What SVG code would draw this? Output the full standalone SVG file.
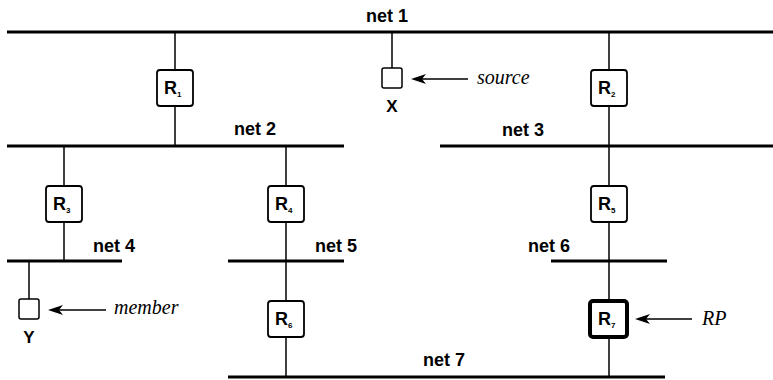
<svg xmlns="http://www.w3.org/2000/svg" width="773" height="380" viewBox="0 0 773 380">
<style>
.net{stroke:#000;stroke-width:3;fill:none}
.link{stroke:#000;stroke-width:1.5;fill:none}
.box{fill:#fff;stroke:#000;stroke-width:1.8}
.rp{fill:#fff;stroke:#000;stroke-width:4}
.host{fill:#fff;stroke:#000;stroke-width:1.5}
.lbl{font-family:"Liberation Sans",Arial,sans-serif;font-weight:bold;font-size:18px;fill:#000}
.rl{font-family:"Liberation Sans",Arial,sans-serif;font-weight:bold;font-size:18px;fill:#000}
.sub{font-size:8px}
.hl{font-family:"Liberation Sans",Arial,sans-serif;font-weight:bold;font-size:17px;fill:#000;text-anchor:middle}
.it{font-family:"Liberation Serif","Times New Roman",serif;font-style:italic;font-size:20px;fill:#000}
.arr{stroke:#000;stroke-width:1.3;fill:none}
.head{fill:#000;stroke:none}
</style>

<g id="connectors">
<line class="net" x1="7" y1="32" x2="773" y2="32"/>
<line class="net" x1="7" y1="146" x2="344" y2="146"/>
<line class="net" x1="440" y1="146" x2="773" y2="146"/>
<line class="net" x1="7" y1="261" x2="122" y2="261"/>
<line class="net" x1="228" y1="261" x2="344" y2="261"/>
<line class="net" x1="551" y1="261" x2="667" y2="261"/>
<line class="net" x1="228" y1="377" x2="665" y2="377"/>
<line class="link" x1="175" y1="32" x2="175" y2="146"/>
<line class="link" x1="392" y1="32" x2="392" y2="68"/>
<line class="link" x1="609" y1="32" x2="609" y2="377"/>
<line class="link" x1="64" y1="146" x2="64" y2="261"/>
<line class="link" x1="286" y1="146" x2="286" y2="377"/>
<line class="link" x1="29" y1="261" x2="29" y2="299"/>
<line class="arr" x1="468" y1="79" x2="420" y2="79"/>
<polygon class="head" points="411,79 426,74 422,79 426,84"/>
<line class="arr" x1="106" y1="310" x2="57" y2="310"/>
<polygon class="head" points="48,310 63,305 59,310 63,315"/>
<line class="arr" x1="692" y1="319" x2="644" y2="319"/>
<polygon class="head" points="635,319 650,314 646,319 650,324"/>
</g>

<g id="labels">
<text class="lbl" x="366" y="22">net 1</text>
<text class="lbl" x="234" y="135">net 2</text>
<text class="lbl" x="502" y="136">net 3</text>
<text class="lbl" x="93" y="252">net 4</text>
<text class="lbl" x="315" y="252">net 5</text>
<text class="lbl" x="528" y="252">net 6</text>
<text class="lbl" x="423" y="366">net 7</text>
</g>

<g id="R1"><rect class="box" x="157" y="70" width="36" height="36" rx="3"/><text class="rl" x="164" y="94">R<tspan class="sub" dy="3">1</tspan></text></g>
<g id="R2"><rect class="box" x="591" y="70" width="36" height="36" rx="3"/><text class="rl" x="598" y="94">R<tspan class="sub" dy="3">2</tspan></text></g>
<g id="R3"><rect class="box" x="46" y="186" width="36" height="36" rx="3"/><text class="rl" x="53" y="210">R<tspan class="sub" dy="3">3</tspan></text></g>
<g id="R4"><rect class="box" x="268" y="186" width="36" height="36" rx="3"/><text class="rl" x="275" y="210">R<tspan class="sub" dy="3">4</tspan></text></g>
<g id="R5"><rect class="box" x="591" y="186" width="36" height="36" rx="3"/><text class="rl" x="598" y="210">R<tspan class="sub" dy="3">5</tspan></text></g>
<g id="R6"><rect class="box" x="268" y="301" width="36" height="36" rx="3"/><text class="rl" x="275" y="325">R<tspan class="sub" dy="3">6</tspan></text></g>
<g id="R7"><rect class="rp" x="590" y="301" width="37" height="36" rx="3"/><text class="rl" x="598" y="325">R<tspan class="sub" dy="3">7</tspan></text></g>

<g id="X"><rect class="host" x="382" y="68" width="20" height="20" rx="2"/><text class="hl" x="392" y="112">X</text></g>
<g id="Y"><rect class="host" x="19" y="299" width="20" height="20" rx="2"/><text class="hl" x="29" y="343">Y</text></g>

<g id="annotations">
<text class="it" x="477" y="84">source</text>
<text class="it" x="114" y="314">member</text>
<text class="it" x="702" y="325">RP</text>
</g>
</svg>
